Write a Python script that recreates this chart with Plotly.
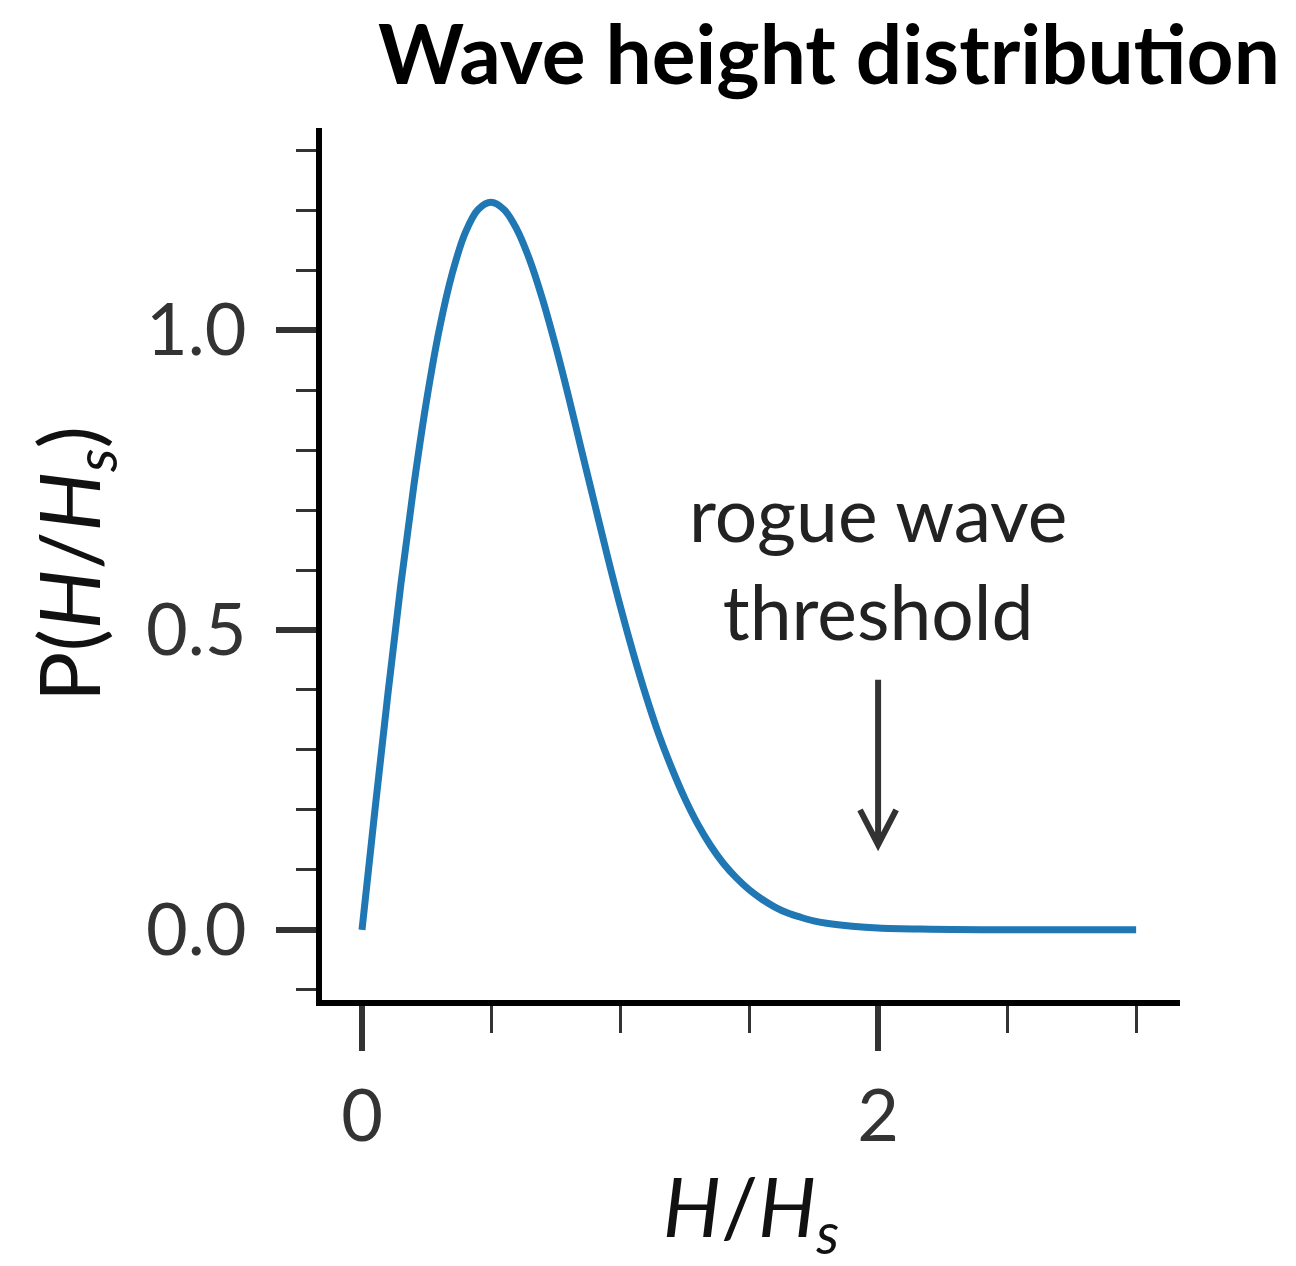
import plotly.graph_objects as go

# Wave height distribution values
h_ratio = [0.0, 0.05, 0.1, 0.15, 0.2, 0.25, 0.3, 0.35, 0.4, 0.45, 0.5, 0.55, 0.6, 0.65,
           0.7, 0.75, 0.8, 0.85, 0.9, 0.95, 1.0, 1.05, 1.1, 1.15, 1.2, 1.25, 1.3, 1.35,
           1.4, 1.45, 1.5, 1.55, 1.6, 1.65, 1.7, 1.75, 1.8, 1.9, 2.0, 2.2, 2.4, 2.6, 2.8, 3.0]
prob = [0.0, 0.199, 0.392, 0.574, 0.738, 0.882, 1.002, 1.095, 1.162, 1.201, 1.213, 1.201, 1.168, 1.117,
        1.051, 0.974, 0.890, 0.801, 0.713, 0.625, 0.541, 0.463, 0.391, 0.326, 0.270, 0.220, 0.177, 0.141,
        0.111, 0.087, 0.067, 0.051, 0.038, 0.028, 0.021, 0.015, 0.011, 0.006, 0.003, 0.001, 0.0, 0.0, 0.0, 0.0]

threshold_x = 2.0
arrow_top_y = 0.417
arrow_tip_y = 0.142
label_y = 0.613
x_range = [-0.155, 3.17]
y_range = [-0.117, 1.337]

FONT = "Lato"
TXT = "#333333"

fig = go.Figure()
fig.add_trace(go.Scatter(x=h_ratio, y=prob, mode="lines", line=dict(color="#1f77b4", width=7, shape="spline"),
                         showlegend=False, hoverinfo="skip"))

# arrow with open chevron head
dx, dy = 0.07, 0.058
fig.add_shape(type="path",
              path=f"M {threshold_x},{arrow_top_y} L {threshold_x},{arrow_tip_y} "
                   f"M {threshold_x-dx},{arrow_tip_y+dy} L {threshold_x},{arrow_tip_y} L {threshold_x+dx},{arrow_tip_y+dy}",
              xref="x", yref="y", line=dict(color="#333333", width=6))

fig.add_annotation(x=threshold_x, y=label_y, xref="x", yref="y", text="rogue wave<br>threshold",
                   showarrow=False, font=dict(family=FONT, size=75, color="#222222"), align="center")

fig.update_layout(
    width=1296, height=1266, autosize=False,
    margin=dict(l=322, r=116, t=128, b=266),
    paper_bgcolor="white", plot_bgcolor="white",
    font=dict(family=FONT, color=TXT),
    title=dict(text="<b>Wave height distribution</b>", xref="container", yref="container",
               x=829/1296, xanchor="center", y=1-55/1266, yanchor="middle",
               font=dict(family=FONT, size=82, color="#000000")),
)

fig.update_xaxes(range=x_range, showgrid=False, zeroline=False, showline=True, linecolor="black", linewidth=6,
                 ticks="outside", tickmode="linear", tick0=0, dtick=2, ticklen=45, tickwidth=6, tickcolor=TXT,
                 tickfont=dict(family=FONT, size=72, color=TXT), ticklabelstandoff=4,
                 minor=dict(ticks="outside", dtick=0.5, tick0=0, ticklen=27, tickwidth=3, tickcolor=TXT, showgrid=False),
                 title=dict(text="<i>H</i>/<i>H</i><sub><i>s</i></sub>", font=dict(family=FONT, size=82, color="#111111"),
                            standoff=26))
fig.update_yaxes(range=y_range, showgrid=False, zeroline=False, showline=True, linecolor="black", linewidth=6,
                 ticks="outside", tickmode="linear", tick0=0, dtick=0.5, tickformat=".1f",
                 ticklen=40, tickwidth=6, tickcolor=TXT,
                 tickfont=dict(family=FONT, size=72, color=TXT), ticklabelstandoff=15,
                 minor=dict(ticks="outside", dtick=0.1, tick0=0, ticklen=20, tickwidth=3, tickcolor=TXT, showgrid=False),
                 title=dict(text="P(<i>H</i>/<i>H</i><sub><i>s</i></sub>)", font=dict(family=FONT, size=84, color="#111111"),
                            standoff=20))

fig.write_html("out.html")
